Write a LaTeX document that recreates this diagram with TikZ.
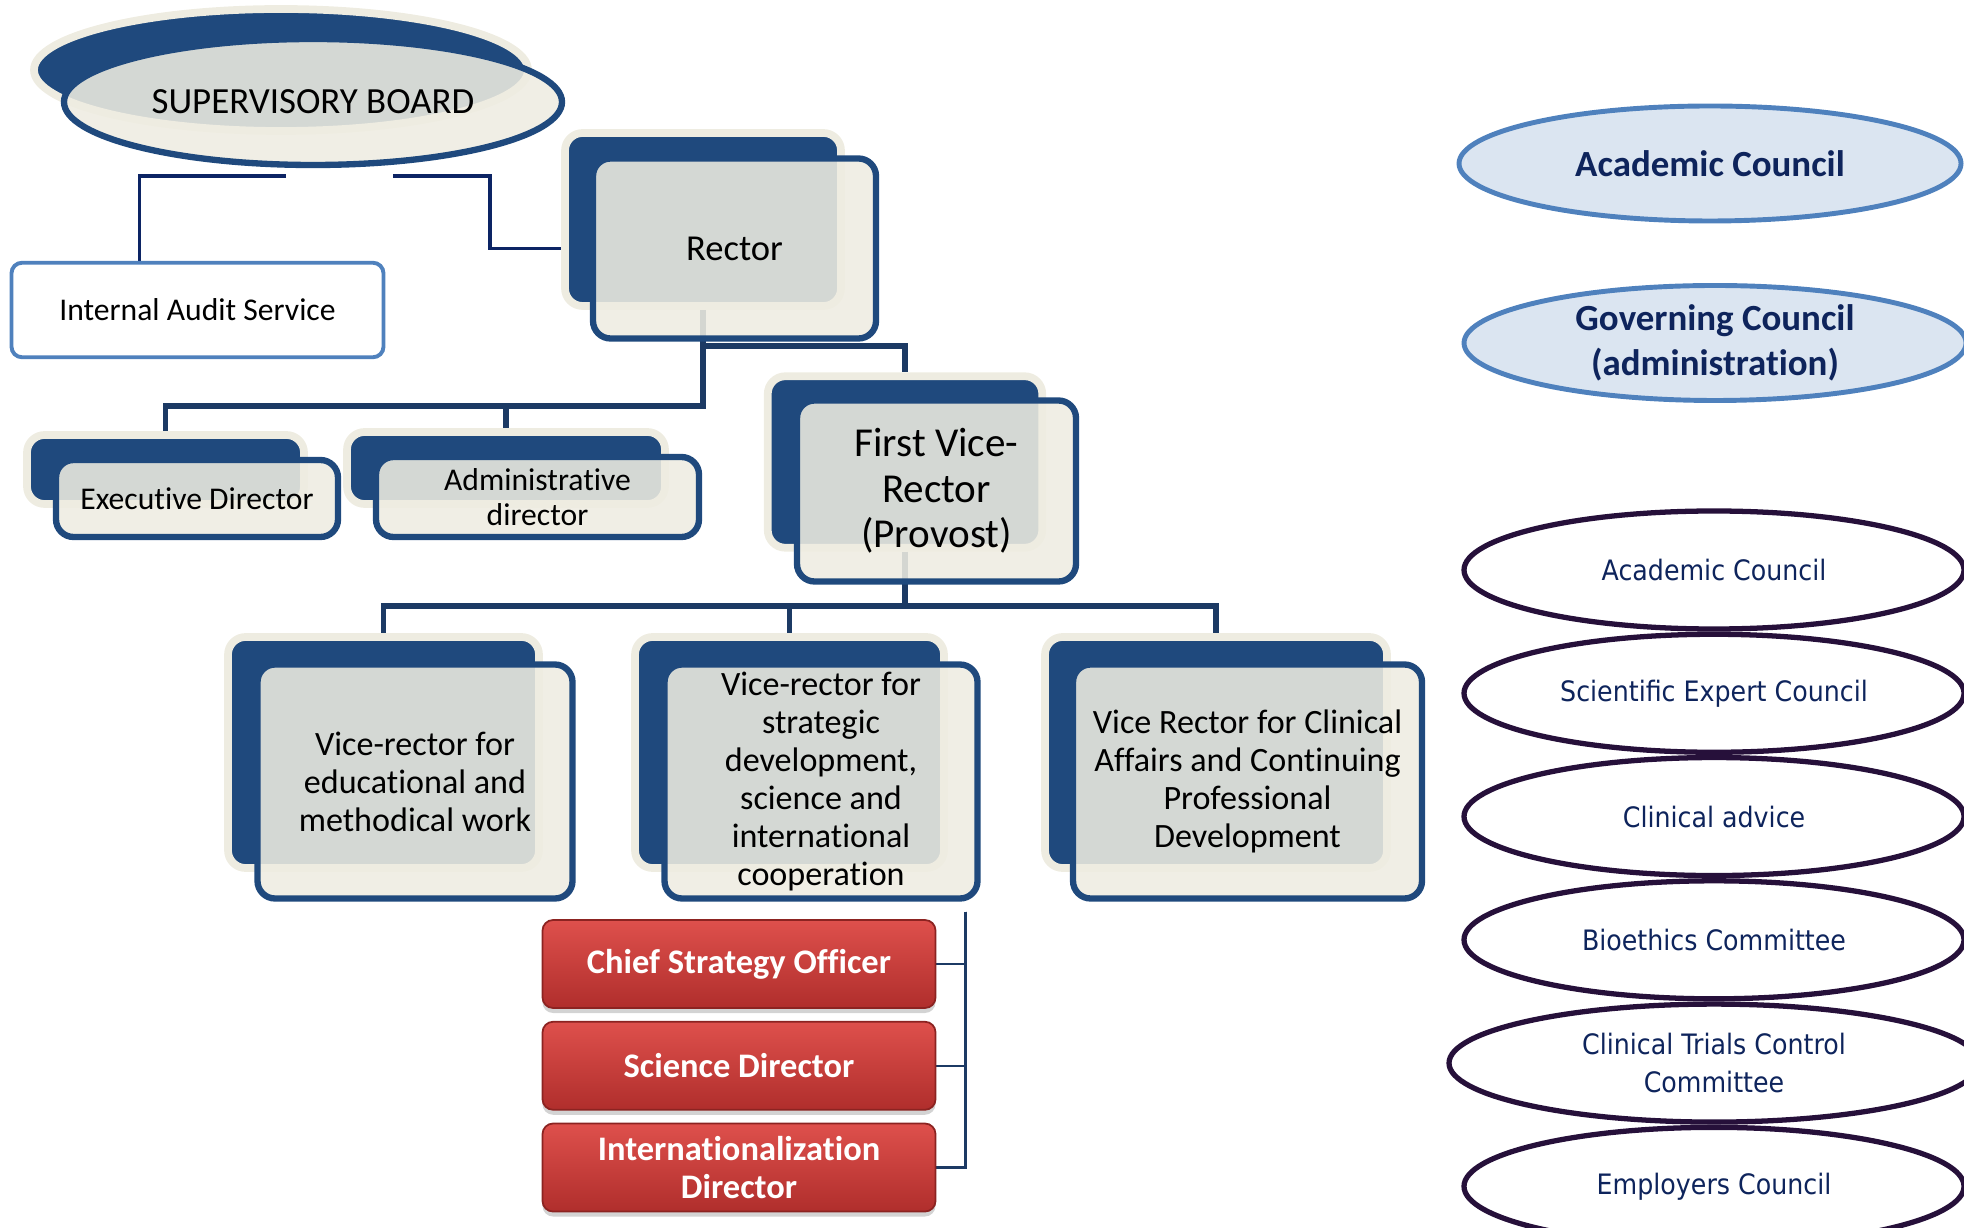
\documentclass[tikz,border=0pt]{standalone}
\usepackage{fontspec}
\setmainfont[Ligatures=NoCommon]{Carlito}
\newfontfamily\ellfont[FakeStretch=0.9]{DejaVu Sans}
\usepackage{xcolor}
\usepackage{tikz}
\usetikzlibrary{positioning, shapes.geometric, shadows, backgrounds}

\definecolor{boxblue}{RGB}{31,73,125}
\definecolor{boxcream}{RGB}{238,236,225}
\definecolor{linkblue}{RGB}{28,58,100}
\definecolor{supblue}{RGB}{12,36,100}
\definecolor{auditblue}{RGB}{79,129,189}
\definecolor{paleblue}{RGB}{219,229,241}
\definecolor{inkblue}{RGB}{14,36,92}
\definecolor{plum}{RGB}{38,16,58}
\definecolor{redtop}{RGB}{222,80,76}
\definecolor{redbot}{RGB}{176,46,44}
\definecolor{redline}{RGB}{140,35,33}

\begin{document}
\begin{tikzpicture}[
  backbox/.style={
    draw=boxcream,
    line width=2.2pt,
    fill=boxblue,
    rounded corners=5pt,
    inner sep=0pt
  },
  frontbox/.style={
    draw=boxblue,
    line width=1.8pt,
    fill=boxcream,
    fill opacity=0.88,
    text opacity=1,
    rounded corners=5pt,
    inner sep=0pt,
    align=center,
    xshift=0.315cm,
    yshift=-0.29cm
  },
  boardback/.style={
    ellipse,
    draw=boxcream,
    line width=2.2pt,
    fill=boxblue,
    minimum width=4.94cm,
    minimum height=1.22cm
  },
  boardfront/.style={
    ellipse,
    draw=boxblue,
    line width=1.8pt,
    fill=boxcream,
    fill opacity=0.88,
    text opacity=1,
    minimum width=4.98cm,
    minimum height=1.26cm,
    font=\fontsize{10.5}{12}\selectfont
  },
  auditbox/.style={
    draw=auditblue,
    line width=1.1pt,
    fill=white,
    rounded corners=3pt,
    minimum width=3.72cm,
    minimum height=0.945cm,
    font=\fontsize{9}{10}\selectfont
  },
  conn/.style={
    draw=linkblue,
    line width=1.6pt
  },
  supconn/.style={
    draw=supblue,
    line width=1pt
  },
  thinconn/.style={
    draw=linkblue,
    line width=0.7pt
  },
  redbox/.style={
    draw=redline,
    line width=0.5pt,
    rounded corners=3pt,
    top color=redtop,
    bottom color=redbot,
    text=white,
    minimum width=3.93cm,
    minimum height=0.88cm,
    inner sep=0pt,
    align=center,
    font=\fontsize{9.8}{10.6}\selectfont\bfseries,
    drop shadow={shadow xshift=0pt, shadow yshift=-0.05cm, opacity=0.35}
  },
  council/.style={
    ellipse,
    draw=auditblue,
    line width=1.4pt,
    fill=paleblue,
    text=inkblue,
    inner sep=0pt,
    align=center,
    minimum width=5.02cm,
    minimum height=1.15cm,
    font=\fontsize{10.5}{12.8}\selectfont\bfseries
  },
  committee/.style={
    ellipse,
    draw=plum,
    line width=1.5pt,
    fill=white,
    text=inkblue,
    inner sep=0pt,
    align=center,
    minimum width=5cm,
    minimum height=1.18cm,
    font=\ellfont\fontsize{8}{11}\selectfont
  }
]
\useasboundingbox (0,0) rectangle (19.64,-12.28);

% Supervisory board and audit
\node [boardback] (boardB) at (2.81,-0.70) {};
\node [boardfront] (board) at (3.13,-1.02) {SUPERVISORY BOARD};
\node [auditbox] (audit) at (1.975,-3.10) {Internal Audit Service};
\coordinate (sbL) at (2.86,-1.76);
\coordinate (sbR) at (3.93,-1.76);

% Rector
\node [backbox, minimum width=2.76cm, minimum height=1.73cm] (rectorB) at (7.03,-2.195) {};
\node [frontbox, minimum width=2.83cm, minimum height=1.80cm,
  font=\fontsize{10.4}{12}\selectfont] (rector) at (rectorB) {Rector};

% Directors under the rector
\node [backbox, minimum width=2.77cm, minimum height=0.69cm] (execB) at (1.655,-4.695) {};
\node [frontbox, minimum width=2.82cm, minimum height=0.77cm,
  font=\fontsize{9}{10}\selectfont] (exec) at (execB) {Executive Director};
\node [backbox, minimum width=3.18cm, minimum height=0.72cm] (adminB) at (5.06,-4.68) {};
\node [frontbox, minimum width=3.23cm, minimum height=0.80cm,
  font=\fontsize{9}{10}\selectfont] (admin) at (adminB) {Administrative\\director};

% First vice-rector
\node [backbox, minimum width=2.745cm, minimum height=1.715cm] (fvrB) at (9.05,-4.62) {};
\node [frontbox, minimum width=2.79cm, minimum height=1.81cm,
  font=\fontsize{11.7}{13}\selectfont] (fvr) at (fvrB) {First Vice-\\Rector\\(Provost)};

% Vice-rectors
\node [backbox, minimum width=3.11cm, minimum height=2.31cm] (vr1B) at (3.835,-7.525) {};
\node [frontbox, minimum width=3.15cm, minimum height=2.34cm,
  font=\fontsize{9.7}{10.8}\selectfont] (vr1) at (vr1B)
  {Vice-rector for\\educational and\\methodical work};
\node [backbox, minimum width=3.09cm, minimum height=2.31cm] (vr2B) at (7.895,-7.525) {};
\node [frontbox, minimum width=3.13cm, minimum height=2.34cm,
  font=\fontsize{9.7}{10.8}\selectfont] (vr2) at (vr2B)
  {Vice-rector for\\strategic\\development,\\science and\\international\\cooperation};
\node [backbox, minimum width=3.42cm, minimum height=2.31cm] (vr3B) at (12.16,-7.525) {};
\node [frontbox, minimum width=3.49cm, minimum height=2.34cm,
  font=\fontsize{9.7}{10.8}\selectfont] (vr3) at (vr3B)
  {Vice Rector for Clinical\\Affairs and Continuing\\Professional\\Development};

% Directors under the strategy vice-rector
\node [redbox] (cso) at (7.39,-9.64) {Chief Strategy Officer};
\node [redbox, below=0.12cm of cso] (scidir) {Science Director};
\node [redbox, below=0.12cm of scidir] (intdir) {Internationalization\\Director};
\coordinate (brk) at ([xshift=-0.15cm, yshift=-0.1cm]vr2.south east);

% Councils
\node [council] (acadtop) at (17.10,-1.635) {Academic Council};
\node [council] (govern) at (17.15,-3.43) {Governing Council\\(administration)};

% Committees
\node [committee] (acad) at (17.14,-5.70) {Academic Council};
\node [committee, below=0cm of acad] (expert) {Scientific Expert Council};
\node [committee, below=0cm of expert] (clinic) {Clinical advice};
\node [committee, below=0cm of clinic] (bioeth) {Bioethics Committee};
\node [committee, below=0cm of bioeth, minimum width=5.3cm] (trials) {Clinical Trials Control\\Committee};
\node [committee, below=0cm of trials] (employ) {Employers Council};

% Connectors
\begin{scope}[on background layer]
  \draw [supconn] (sbL) -| ([xshift=-0.58cm]audit.north);
  \draw [supconn] (sbR) -- ++(0.97,0) |- (rector.west);
  \draw [conn] (rectorB.south) -- ++(0,-0.36) -| (fvrB.north);
  \draw [conn] (rectorB.south) -- ++(0,-0.96) coordinate (split) -| (execB.north);
  \draw [conn] (split) -| (adminB.north);
  \draw [conn] (fvrB.south) -- ++(0,-0.545) coordinate (fork) -| (vr1B.north);
  \draw [conn] (fork) -| (vr2B.north);
  \draw [conn] (fork) -| (vr3B.north);
  \draw [thinconn] (brk) |- (cso.east);
  \draw [thinconn] (brk) |- (scidir.east);
  \draw [thinconn] (brk) |- (intdir.east);
\end{scope}

\end{tikzpicture}
\end{document}
